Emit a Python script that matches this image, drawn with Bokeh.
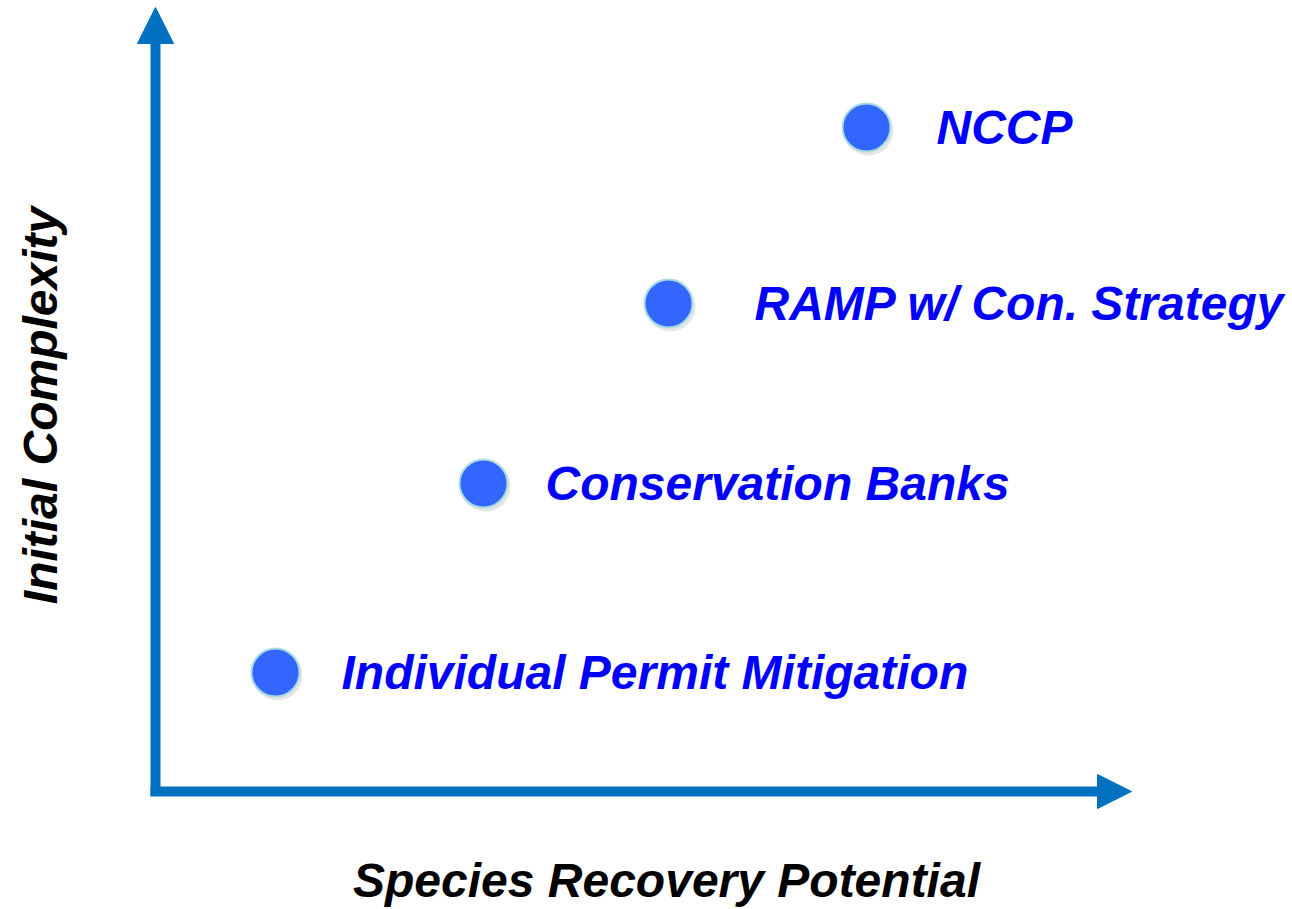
from bokeh.plotting import figure
from bokeh.models import Range1d, Arrow, NormalHead, ColumnDataSource, Label
from bokeh.core.properties import value
from bokeh.transform import dodge
from bokeh.embed import file_html
from bokeh.resources import INLINE

# Data (conceptual units: 1 unit = 100 px of the original drawing)
approaches = ["Individual Permit Mitigation", "Conservation Banks",
              "RAMP w/ Con. Strategy", "NCCP"]
recovery_potential = [1.20, 3.28, 5.13, 7.11]
initial_complexity = [1.19, 3.08, 4.88, 6.64]
x_axis_title = "Species Recovery Potential"
y_axis_title = "Initial Complexity"

# Layout / styling (pixel offsets of labels from their dots)
label_offsets = [66, 62, 86, 70]

W, H = 1292, 909
p = figure(width=W, height=H, output_backend="svg", toolbar_location=None,
           x_range=Range1d(-1.55, 11.37), y_range=Range1d(-1.18, 7.91),
           min_border=0)
p.axis.visible = False
p.grid.visible = False
p.outline_line_color = None
p.background_fill_color = "white"
p.border_fill_color = "white"

axis_color = "#0070C0"
# vertical arrow
p.add_layout(Arrow(x_start=0, y_start=-0.04, x_end=0, y_end=7.84,
                   line_color=axis_color, line_width=10,
                   end=NormalHead(size=36, fill_color=axis_color, line_color=axis_color, line_width=1)))
# horizontal arrow
p.add_layout(Arrow(x_start=-0.05, y_start=0, x_end=9.76, y_end=0,
                   line_color=axis_color, line_width=10,
                   end=NormalHead(size=34, fill_color=axis_color, line_color=axis_color, line_width=1)))

src = ColumnDataSource(dict(x=recovery_potential, y=initial_complexity,
                            name=approaches, off=label_offsets))

# soft shadow
p.scatter(x=dodge("x", 0.02, range=p.x_range), y=dodge("y", -0.03, range=p.y_range),
          source=src, size=50, marker="circle",
          fill_color="#9a9a9a", fill_alpha=0.25, line_color=None)
p.scatter(x="x", y="y", source=src, size=48, marker="circle",
          fill_color="#3366FF", line_color="#A8DCE0", line_width=2)

p.text(x="x", y="y", text="name", source=src, x_offset="off",
       text_font=value("Liberation Sans"), text_font_style="bold italic",
       text_font_size="48px", text_color="#0000FF",
       text_align="left", text_baseline="middle")

p.add_layout(Label(x=5.11, y=-0.89, text=x_axis_title,
                   text_font="Liberation Sans", text_font_style="bold italic",
                   text_font_size="48px", text_color="black",
                   text_align="center", text_baseline="middle"))
p.add_layout(Label(x=-1.15, y=3.86, text=y_axis_title, angle=1.5708,
                   text_font="Liberation Sans", text_font_style="bold italic",
                   text_font_size="48px", text_color="black",
                   text_align="center", text_baseline="middle"))

open("out.html", "w").write(file_html(p, INLINE))
